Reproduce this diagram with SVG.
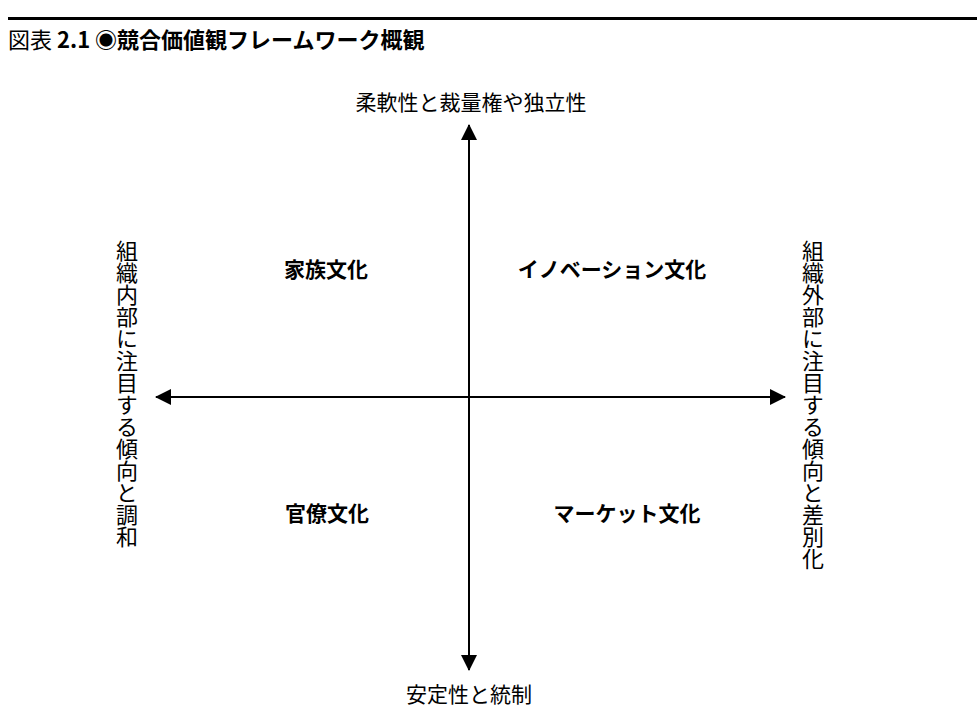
<svg xmlns="http://www.w3.org/2000/svg" width="977" height="727" viewBox="0 0 977 727">
<style>
text{font-family:"Noto Sans CJK JP","Noto Sans CJK SC",sans-serif;fill:#000}
.ax{font-size:21px}
.q{font-size:21px;font-weight:bold}
.v{font-size:22px;writing-mode:vertical-rl}
.t{font-size:22px;font-weight:bold}
.line{stroke:#000;stroke-width:2;fill:none}
</style>
<defs>
<marker id="ah" viewBox="0 0 16 16" refX="15" refY="8" markerWidth="16" markerHeight="16" markerUnits="userSpaceOnUse" orient="auto-start-reverse">
<path d="M0,0 L16,8 L0,16 Z" fill="#000"/>
</marker>
</defs>
<rect x="8" y="17" width="969" height="3" fill="#000"/>
<text x="8" y="48" class="t"><tspan font-weight="normal">図表</tspan> 2.1 ◉競合価値観フレームワーク概観</text>
<g id="connectors">
<line class="line" x1="469" y1="125" x2="469" y2="670" marker-start="url(#ah)" marker-end="url(#ah)"/>
<line class="line" x1="156" y1="397" x2="785" y2="397" marker-start="url(#ah)" marker-end="url(#ah)"/>
</g>
<g id="top"><text class="ax" x="471" y="110" text-anchor="middle">柔軟性と裁量権や独立性</text></g>
<g id="bottom"><text class="ax" x="469" y="702" text-anchor="middle">安定性と統制</text></g>
<g id="left"><text class="v" x="127" y="240">組織内部に注目する傾向と調和</text></g>
<g id="right"><text class="v" x="813" y="240">組織外部に注目する傾向と差別化</text></g>
<g id="family"><text class="q" x="326" y="277" text-anchor="middle">家族文化</text></g>
<g id="innovation"><text class="q" x="612" y="277" text-anchor="middle">イノベーション文化</text></g>
<g id="bureau"><text class="q" x="327" y="521" text-anchor="middle">官僚文化</text></g>
<g id="market"><text class="q" x="627" y="521" text-anchor="middle">マーケット文化</text></g>
</svg>
